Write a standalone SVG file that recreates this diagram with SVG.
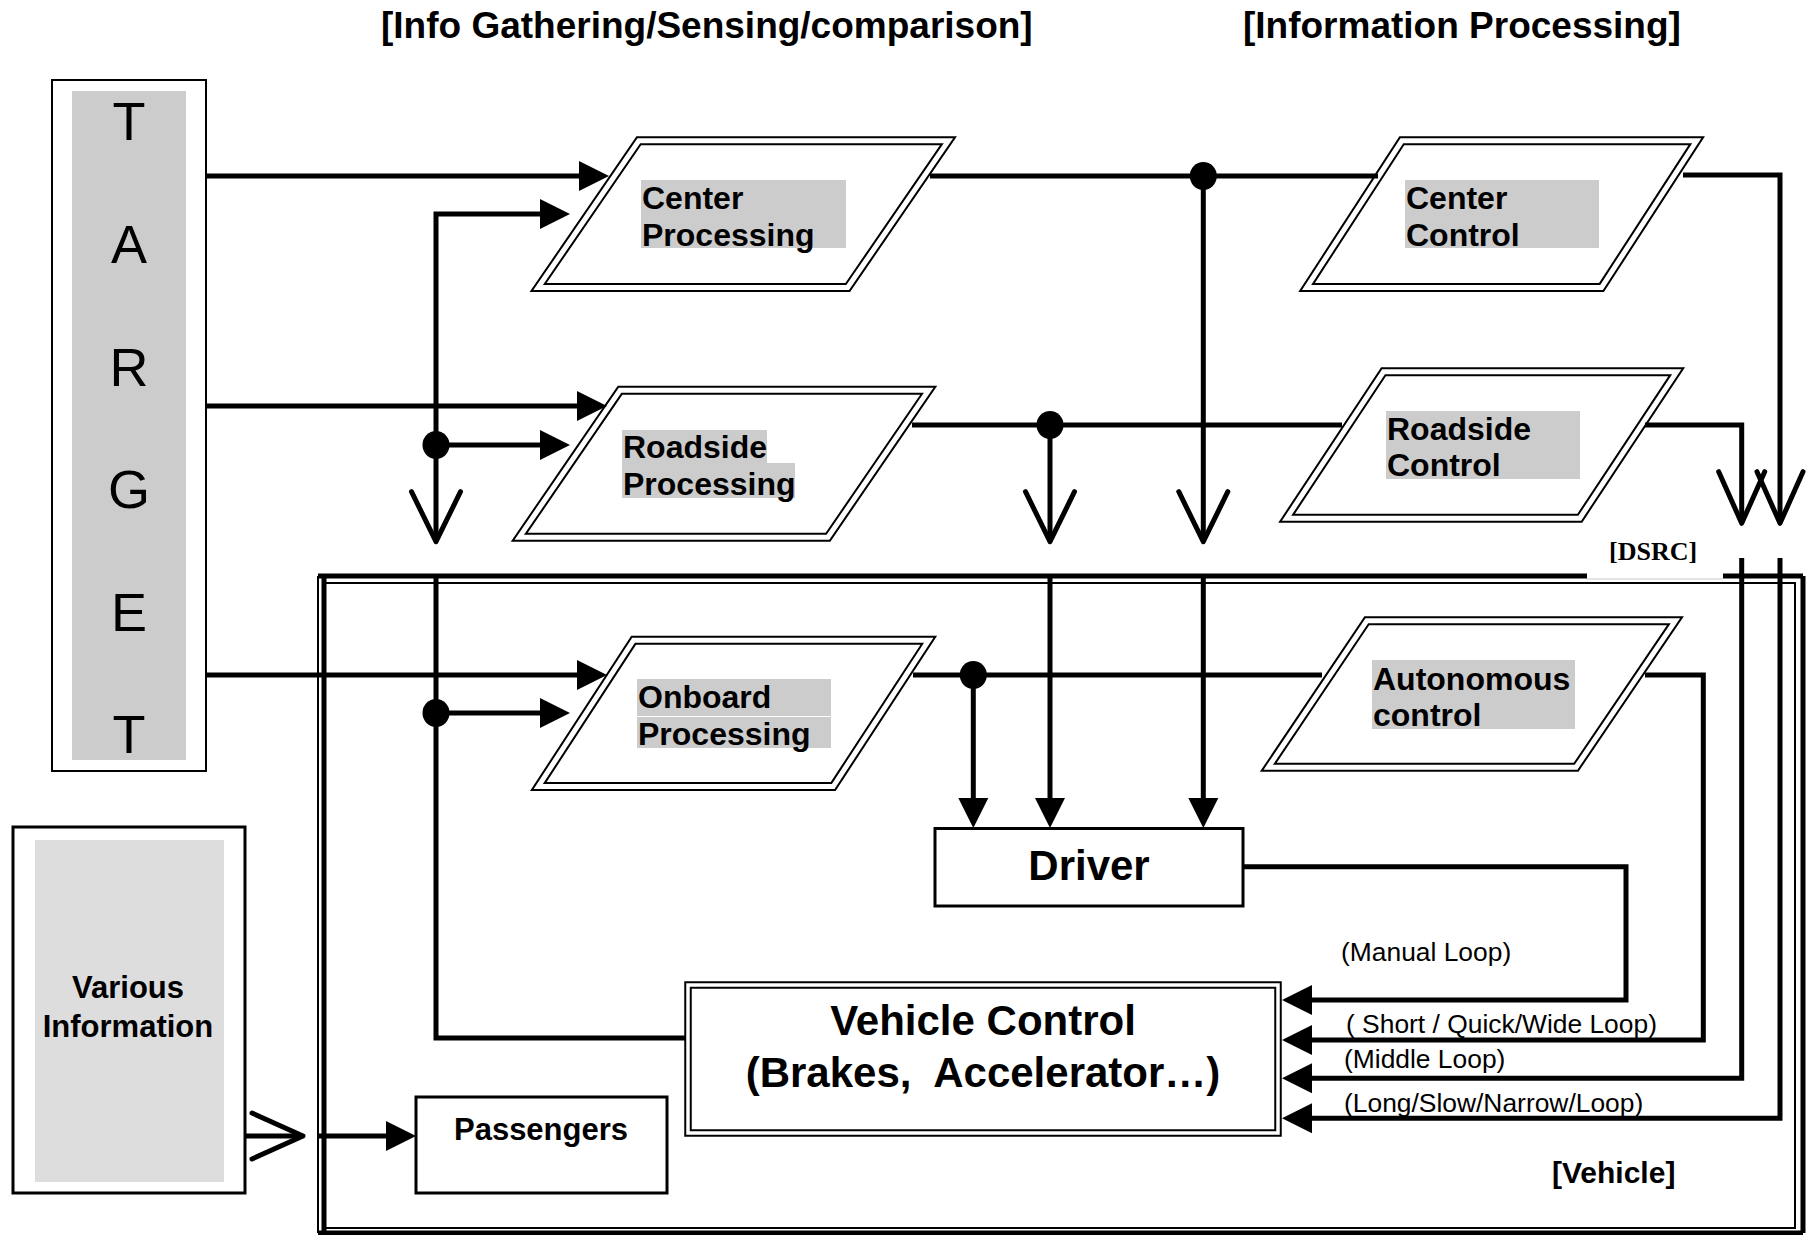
<svg xmlns="http://www.w3.org/2000/svg" width="1812" height="1235" viewBox="0 0 1812 1235">
<defs>
<style>
.ln{fill:none;stroke:#000;stroke-width:5;stroke-linecap:butt;stroke-linejoin:miter}
.v{fill:none;stroke:#000;stroke-width:5;stroke-linecap:round;stroke-linejoin:round}
.pgo{fill:#fff;stroke:#000;stroke-width:9;stroke-linejoin:miter}
.pgi{fill:none;stroke:#fff;stroke-width:5;stroke-linejoin:miter}
.bg{fill:#ccc}
.box{fill:#fff;stroke:#000;stroke-width:3}
.dot{fill:#000}
.b{font-family:"Liberation Sans",Arial,sans-serif;font-weight:bold;fill:#000}
.r{font-family:"Liberation Sans",Arial,sans-serif;fill:#000}
.lbl{font-size:32px}
.loop{font-size:26.4px}
</style>
<marker id="ah" markerUnits="userSpaceOnUse" markerWidth="30" markerHeight="30" refX="0" refY="15" orient="auto" overflow="visible">
<path d="M0,0 L30,15 L0,30 z" fill="#000"/>
</marker>
</defs>
<rect width="1812" height="1235" fill="#fff"/>

<text class="b" x="381" y="38" font-size="37">[Info Gathering/Sensing/comparison]</text>
<text class="b" x="1243" y="38" font-size="37">[Information Processing]</text>

<g id="target">
<rect x="52" y="80" width="154" height="691" fill="#fff" stroke="#000" stroke-width="2"/>
<rect class="bg" x="72" y="91" width="114" height="669"/>
<g class="r" font-size="54" text-anchor="middle">
<text x="129" y="140">T</text>
<text x="129" y="263">A</text>
<text x="129" y="386">R</text>
<text x="129" y="508">G</text>
<text x="129" y="631">E</text>
<text x="129" y="753">T</text>
</g>
</g>

<g id="vehicle">
<g fill="none" stroke="#000">
<path d="M318,576 H1587 M1723,576 H1803" stroke-width="5"/>
<path d="M1587,579 H1723" stroke="#c8c8c8" stroke-width="1"/>
<path d="M324,576 V1233 M318,1233 H1803 M1803,576 V1233" stroke-width="5"/>
<path d="M318,576 V1233 M324,583 H1795 V1228 H324" stroke-width="2"/>
</g>
<text class="b" x="1552" y="1183" font-size="30">[Vehicle]</text>
</g>

<g id="dsrc">
<text x="1609" y="560" font-family="'Liberation Serif','Times New Roman',serif" font-weight="bold" font-size="26">[DSRC]</text>
</g>

<g id="center-processing">
<polygon class="pgo" points="638.8,140.8 948.4,140.8 847.7,287.5 538.1,287.5"/>
<polygon class="pgi" points="638.8,140.8 948.4,140.8 847.7,287.5 538.1,287.5"/>
<rect class="bg" x="641" y="180" width="205" height="68"/>
<text class="b lbl" x="642" y="209">Center</text>
<text class="b lbl" x="642" y="246">Processing</text>
</g>

<g id="roadside-processing">
<polygon class="pgo" points="620.1,390.2 928.7,390.2 828,537.2 519.3,537.2"/>
<polygon class="pgi" points="620.1,390.2 928.7,390.2 828,537.2 519.3,537.2"/>
<rect class="bg" x="622" y="430" width="145" height="34"/>
<rect class="bg" x="622" y="463" width="173" height="35"/>
<text class="b lbl" x="623" y="458">Roadside</text>
<text class="b lbl" x="623" y="495">Processing</text>
</g>

<g id="onboard-processing">
<polygon class="pgo" points="633.6,640.2 928.8,640.2 833.2,786.5 538.3,786.5"/>
<polygon class="pgi" points="633.6,640.2 928.8,640.2 833.2,786.5 538.3,786.5"/>
<rect class="bg" x="637" y="679" width="194" height="37"/>
<rect class="bg" x="637" y="717" width="194" height="31"/>
<text class="b lbl" x="638" y="708">Onboard</text>
<text class="b lbl" x="638" y="745">Processing</text>
</g>

<g id="center-control">
<polygon class="pgo" points="1401.8,140.8 1696.7,140.8 1601.5,287.5 1306.6,287.5"/>
<polygon class="pgi" points="1401.8,140.8 1696.7,140.8 1601.5,287.5 1306.6,287.5"/>
<rect class="bg" x="1405" y="180" width="194" height="68"/>
<text class="b lbl" x="1406" y="209">Center</text>
<text class="b lbl" x="1406" y="246">Control</text>
</g>

<g id="roadside-control">
<polygon class="pgo" points="1383.5,371.8 1676.7,371.8 1579.8,518.2 1286.6,518.2"/>
<polygon class="pgi" points="1383.5,371.8 1676.7,371.8 1579.8,518.2 1286.6,518.2"/>
<rect class="bg" x="1386" y="411" width="194" height="68"/>
<text class="b lbl" x="1387" y="440">Roadside</text>
<text class="b lbl" x="1387" y="476">Control</text>
</g>

<g id="autonomous-control">
<polygon class="pgo" points="1366.8,620.8 1675.4,620.8 1576.1,767.2 1268.3,767.2"/>
<polygon class="pgi" points="1366.8,620.8 1675.4,620.8 1576.1,767.2 1268.3,767.2"/>
<rect class="bg" x="1372" y="660" width="203" height="69"/>
<text class="b lbl" x="1373" y="690">Autonomous</text>
<text class="b lbl" x="1373" y="726">control</text>
</g>

<g id="driver">
<rect class="box" x="935" y="828.5" width="308" height="77.5"/>
<text class="b" x="1089" y="880" font-size="42" text-anchor="middle">Driver</text>
</g>

<g id="vehicle-control">
<rect x="688" y="985" width="590" height="148" fill="#fff" stroke="#000" stroke-width="7.5"/>
<rect x="688" y="985" width="590" height="148" fill="none" stroke="#fff" stroke-width="3.5"/>
<text class="b" x="983" y="1035" font-size="42" text-anchor="middle">Vehicle Control</text>
<text class="b" x="983" y="1087" font-size="42" text-anchor="middle" xml:space="preserve">(Brakes,  Accelerator…)</text>
</g>

<g id="passengers">
<rect class="box" x="416" y="1097" width="251" height="96"/>
<text class="b" x="541" y="1140" font-size="31" text-anchor="middle">Passengers</text>
</g>

<g id="various-information">
<rect class="box" x="13" y="827" width="232" height="366"/>
<rect x="35" y="840" width="189" height="342" fill="#ddd"/>
<text class="b" x="128" y="998" font-size="31" text-anchor="middle">Various</text>
<text class="b" x="128" y="1037" font-size="31" text-anchor="middle">Information</text>
</g>

<g id="connectors">
<path class="ln" d="M206,176 H579" marker-end="url(#ah)"/>
<path class="ln" d="M206,406 H577" marker-end="url(#ah)"/>
<path class="ln" d="M206,675 H577" marker-end="url(#ah)"/>
<path class="ln" d="M436,541.7 V214 H540" marker-end="url(#ah)"/>
<path class="ln" d="M685,1038 H436 V574"/>
<path class="ln" d="M436,445 H540" marker-end="url(#ah)"/>
<path class="ln" d="M436,713 H540" marker-end="url(#ah)"/>
<path class="v" d="M411.5,491.7 L436,541.7 L460.5,491.7"/>

<path class="ln" d="M930,176 H1378"/>
<path class="ln" d="M1203.3,176 V541.7"/>
<path class="ln" d="M1203.3,574 V798" marker-end="url(#ah)"/>
<path class="v" d="M1178.8,491.7 L1203.3,541.7 L1227.8,491.7"/>

<path class="ln" d="M912,425 H1342"/>
<path class="ln" d="M1050,425 V541.7"/>
<path class="ln" d="M1050,574 V798" marker-end="url(#ah)"/>
<path class="v" d="M1025.5,491.7 L1050,541.7 L1074.5,491.7"/>

<path class="ln" d="M913,675 H1322"/>
<path class="ln" d="M973.3,675 V798" marker-end="url(#ah)"/>

<path class="ln" d="M1683,175 H1780 V523"/>
<path class="v" d="M1757,471.7 L1780,523.3 L1803,471.7"/>
<path class="ln" d="M1645,425 H1741.7 V523"/>
<path class="v" d="M1718.7,471.7 L1741.7,523.3 L1764.7,471.7"/>

<path class="ln" d="M1243.3,866.7 H1626 V1000 H1312" marker-end="url(#ah)"/>
<path class="ln" d="M1645,675 H1703.3 V1040 H1312" marker-end="url(#ah)"/>
<path class="ln" d="M1741.7,558 V1078.3 H1312" marker-end="url(#ah)"/>
<path class="ln" d="M1780,558 V1118.3 H1312" marker-end="url(#ah)"/>

<path class="ln" d="M245,1136 H303"/>
<path class="v" d="M252,1113 L303,1136 L252,1159"/>
<path class="ln" d="M319,1136 H386" marker-end="url(#ah)"/>

<ellipse class="dot" cx="436" cy="445" rx="13.5" ry="14"/>
<ellipse class="dot" cx="436" cy="713" rx="13.5" ry="14"/>
<ellipse class="dot" cx="1203.3" cy="176" rx="13.5" ry="14"/>
<ellipse class="dot" cx="1050" cy="425" rx="13.5" ry="14"/>
<ellipse class="dot" cx="973.3" cy="675" rx="13.5" ry="14"/>

<g class="r loop">
<text x="1341" y="961">(Manual Loop)</text>
<text x="1346" y="1033">( Short / Quick/Wide Loop)</text>
<text x="1344" y="1068">(Middle Loop)</text>
<text x="1344" y="1112">(Long/Slow/Narrow/Loop)</text>
</g>
</g>
</svg>
